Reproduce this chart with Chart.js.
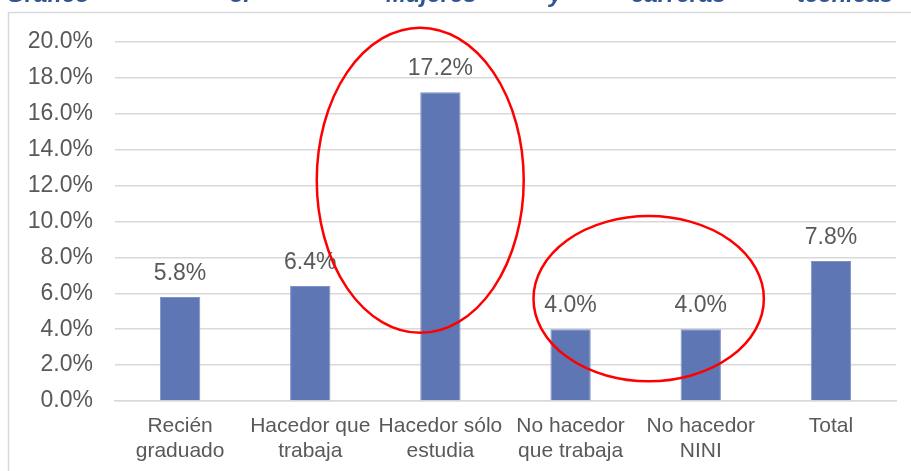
<!DOCTYPE html>
<html>
<head>
<meta charset="utf-8">
<script src="https://cdn.jsdelivr.net/npm/chart.js@4/dist/chart.umd.min.js"></script>
<style>
  html, body { margin: 0; padding: 0; background: #ffffff; overflow: hidden; }
  #wrap { position: relative; width: 911px; height: 471px; }
  #c { position: absolute; left: 0; top: 0; }
  .tw { position: absolute; top: -17px; font: italic bold 24px "Liberation Sans", Arial, sans-serif; color: #2f5597; line-height: 22px; white-space: nowrap; }
</style>
</head>
<body>
<div id="wrap">
  <canvas id="c" width="911" height="471"></canvas>
  <span class="tw" style="left:6px">Gráfico</span>
  <span class="tw" style="left:230px">3.</span>
  <span class="tw" style="left:386px">Mujeres</span>
  <span class="tw" style="left:549px">y</span>
  <span class="tw" style="left:631px">carreras</span>
  <span class="tw" style="left:797px">técnicas</span>
</div>
<script>
const categories = [["Recién", "graduado"], ["Hacedor que", "trabaja"], ["Hacedor sólo", "estudia"], ["No hacedor", "que trabaja"], ["No hacedor", "NINI"], ["Total"]];
const values = [5.8, 6.4, 17.2, 4.0, 4.0, 7.8];
const yTicks = [0, 2, 4, 6, 8, 10, 12, 14, 16, 18, 20];
// annotation ellipses in scale units: category index, value (%)
const ellipseCats = [1.845, 3.6];
const ellipseVals = [12.3, 5.7];
const ellipseRxCats = [0.795, 0.885];
const ellipseRyVals = [8.5, 4.6];

const TEXT = '#595959';
const FONT = '"Liberation Sans", Arial, sans-serif';

const framePlugin = {
  id: 'frame',
  beforeDraw(chart) {
    const ctx = chart.ctx;
    ctx.save();
    ctx.fillStyle = '#ffffff';
    ctx.fillRect(0, 0, chart.width, chart.height);
    ctx.strokeStyle = '#d9d9d9';
    ctx.lineWidth = 1.5;
    ctx.beginPath();
    ctx.moveTo(8.5, chart.height + 2);
    ctx.lineTo(8.5, 12.5);
    ctx.lineTo(chart.width + 2, 12.5);
    ctx.stroke();
    ctx.restore();
  },
  afterDatasetsDraw(chart) {
    const ctx = chart.ctx;
    const meta = chart.getDatasetMeta(0);
    ctx.save();
    ctx.font = '23px ' + FONT;
    ctx.fillStyle = TEXT;
    ctx.textAlign = 'center';
    ctx.textBaseline = 'alphabetic';
    meta.data.forEach((bar, i) => {
      ctx.fillText(values[i].toFixed(1) + '%', bar.x, bar.y - 17);
    });
    ctx.restore();
  },
  afterDraw(chart) {
    const ctx = chart.ctx;
    const xs = chart.scales.x, ys = chart.scales.y;
    const catW = xs.getPixelForValue(1) - xs.getPixelForValue(0);
    const unitH = ys.getPixelForValue(0) - ys.getPixelForValue(1);
    ctx.save();
    ctx.strokeStyle = '#ff0000';
    ctx.lineWidth = 2.5;
    for (let i = 0; i < ellipseCats.length; i++) {
      const base = Math.floor(ellipseCats[i]);
      const frac = ellipseCats[i] - base;
      const cx = xs.getPixelForValue(base) + frac * catW;
      const cy = ys.getPixelForValue(ellipseVals[i]);
      ctx.beginPath();
      ctx.ellipse(cx, cy, ellipseRxCats[i] * catW, ellipseRyVals[i] * unitH, 0, 0, Math.PI * 2);
      ctx.stroke();
    }
    ctx.restore();
  }
};

new Chart(document.getElementById('c'), {
  type: 'bar',
  data: {
    labels: categories,
    datasets: [{
      data: values,
      backgroundColor: '#5f76b4',
      borderColor: '#7f93c9',
      borderWidth: 1,
      categoryPercentage: 1.0,
      barPercentage: 0.31
    }]
  },
  options: {
    responsive: false,
    animation: false,
    devicePixelRatio: 1,
    layout: { padding: { top: 42, right: 15, left: 0, bottom: 0 } },
    plugins: { legend: { display: false }, tooltip: { enabled: false } },
    scales: {
      x: {
        grid: { display: false, drawTicks: false },
        border: { display: true, color: '#d9d9d9', width: 1.5 },
        ticks: { color: TEXT, font: { family: FONT, size: 21, lineHeight: 1.22 }, padding: 12, maxRotation: 0, autoSkip: false },
        afterFit(s) { s.height = 70; }
      },
      y: {
        min: 0, max: 20,
        afterBuildTicks(s) { s.ticks = yTicks.map(v => ({ value: v })); },
        grid: { color: '#d9d9d9', lineWidth: 1.5, drawTicks: false },
        border: { display: false },
        ticks: { color: TEXT, font: { family: FONT, size: 23 }, padding: 22, callback: v => v.toFixed(1) + '%' },
        afterFit(s) { s.width = 115; }
      }
    }
  },
  plugins: [framePlugin]
});
</script>
</body>
</html>
